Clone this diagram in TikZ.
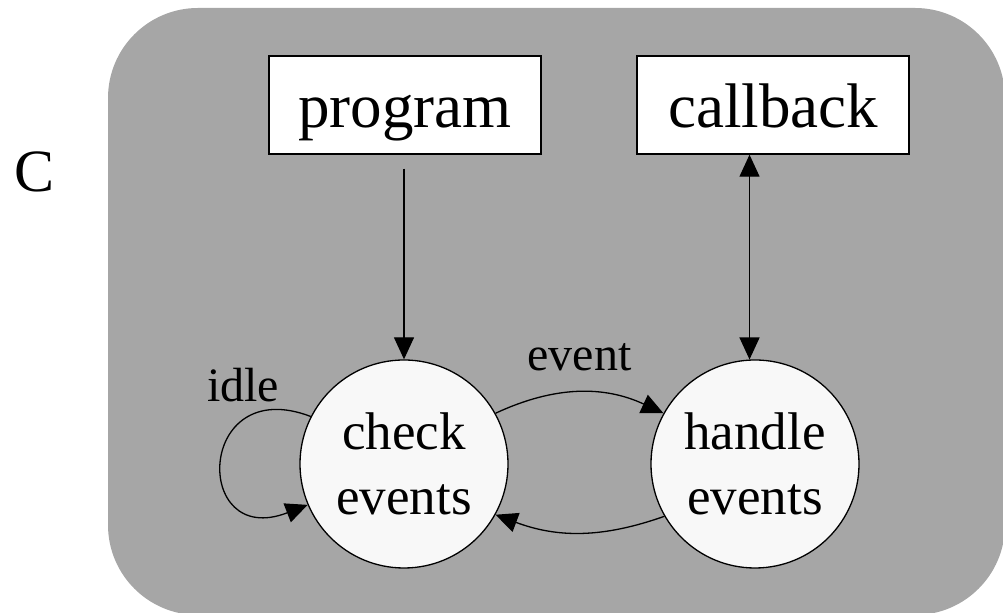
\documentclass[tikz,border=0pt]{standalone}
\usepackage{fontspec}
\setmainfont{Liberation Serif}
\usetikzlibrary{arrows.meta}
\definecolor{panelgray}{HTML}{A6A6A6}
\definecolor{statefill}{HTML}{F8F8F8}

\begin{document}
\begin{tikzpicture}[x=0.5pt,y=-0.5pt,
    >={Triangle[length=11pt,width=10pt]},
    boxnode/.style={draw,fill=white,line width=0.7pt,minimum width=136pt,minimum height=49pt,inner sep=0pt,text height=23pt,text depth=0pt,font=\fontsize{31.5}{38}\selectfont},
    statenode/.style={circle,draw,fill=statefill,line width=0.65pt,minimum size=104pt,inner sep=0pt,align=center,font=\fontsize{26.5}{32.5}\selectfont},
    edgelabel/.style={inner sep=2pt,font=\fontsize{24}{28}\selectfont},
    conn/.style={line width=0.65pt}]
    % Frame
    \useasboundingbox (0,0) rectangle (1003,613);
    \clip (0,0) rectangle (1003,613);
    \fill[panelgray,rounded corners=45pt] (108,8) rectangle (1005,615);
    
    % Label
    \node[font=\fontsize{30}{36}\selectfont] (clang) at (35,172) {C};
    
    % Boxes
    \node[boxnode] (program) at (405,105) {program};
    \node[boxnode] (callback) at (773,105) {callback};
    
    % States
    \node[statenode] (check) at (404,464) {check\\events};
    \node[statenode] (handle) at (755,464) {handle\\events};
    
    % Edges
    \draw[conn,->,shorten <=7pt] (program.south -| check.north) -- (check.north);
    \draw[conn,<->] (callback.south -| handle.93) -- (handle.93);
    \draw[conn,->] (check.29) to[bend left=25] node[edgelabel,midway,above=8.5pt] {event} (handle.151);
    \draw[conn,->] (handle.210) to[bend left=20] (check.331);
    \draw[conn,->] (check.153) .. controls +(-115,-44) and +(-116,45) .. (check.203);
    \node[edgelabel] (idle) at (243,385) {idle};
\end{tikzpicture}
\end{document}
